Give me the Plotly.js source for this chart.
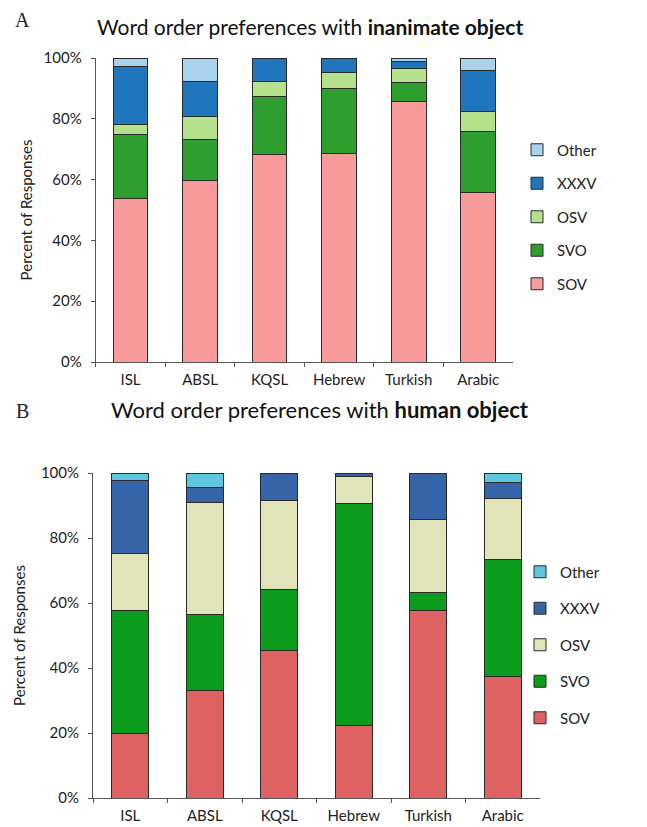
<!DOCTYPE html>
<html>
<head>
<meta charset="utf-8">
<script src="https://cdn.plot.ly/plotly-3.0.1.min.js"></script>
<style>html,body{margin:0;padding:0;background:#fff;}#chart{width:647px;height:827px;}</style>
</head>
<body>
<div id="chart"></div>
<script>
const categories = ['ISL', 'ABSL', 'KQSL', 'Hebrew', 'Turkish', 'Arabic'];
const seriesNames = ['SOV', 'SVO', 'OSV', 'XXXV', 'Other'];

// Panel A: inanimate object (percent of responses)
const inanSOV   = [53.7, 59.8, 68.4, 68.7, 85.8, 55.7];
const inanSVO   = [21.3, 13.3, 18.9, 21.3, 6.0, 20.1];
const inanOSV   = [3.2, 7.6, 4.9, 5.2, 4.9, 6.7];
const inanXXXV  = [18.9, 11.7, 7.8, 4.8, 2.2, 13.5];
const inanOther = [2.9, 7.6, 0, 0, 1.1, 4.0];

// Panel B: human object (percent of responses)
const humSOV   = [20.0, 33.0, 45.3, 22.3, 57.7, 37.4];
const humSVO   = [37.6, 23.4, 18.8, 68.2, 5.6, 35.9];
const humOSV   = [17.5, 34.4, 27.4, 8.3, 22.3, 19.0];
const humXXXV  = [22.5, 4.6, 8.5, 1.2, 14.4, 4.9];
const humOther = [2.4, 4.6, 0, 0, 0, 2.8];

const yTickVals = [0, 20, 40, 60, 80, 100];
const yTickLabels = ['0%', '20%', '40%', '60%', '80%', '100%'];

const colorsA = ['#f99b9b', '#2e9e2e', '#b5e08c', '#1f76bd', '#a9d2ec'];
const colorsB = ['#de6262', '#0a9c1a', '#e0e4b8', '#3565a8', '#5ec6e0'];

const dataA = [inanSOV, inanSVO, inanOSV, inanXXXV, inanOther];
const dataB = [humSOV, humSVO, humOSV, humXXXV, humOther];

const traces = [];
dataA.forEach((vals, i) => {
  traces.push({
    type: 'bar', x: categories, y: vals, name: seriesNames[i],
    xaxis: 'x', yaxis: 'y', legend: 'legend', legendgroup: 'a' + i,
    legendrank: 10 - i,
    marker: {color: colorsA[i], line: {color: '#2a2a2a', width: 1}},
    hoverinfo: 'x+y+name'
  });
});
dataB.forEach((vals, i) => {
  traces.push({
    type: 'bar', x: categories, y: vals, name: seriesNames[i],
    xaxis: 'x2', yaxis: 'y2', legend: 'legend2', legendgroup: 'b' + i,
    legendrank: 10 - i,
    marker: {color: colorsB[i], line: {color: '#2a2a2a', width: 1}},
    hoverinfo: 'x+y+name'
  });
});

const FONT = 'Lato, "Open Sans", sans-serif';
const axisCommon = {
  showline: true, linecolor: '#555', linewidth: 1,
  ticks: 'outside', ticklen: 4, tickcolor: '#555',
  showgrid: false, zeroline: false,
  tickfont: {family: FONT, size: 15, color: '#222'}
};

const W = 647, H = 827;
const layout = {
  width: W, height: H,
  margin: {l: 0, r: 0, t: 0, b: 0},
  paper_bgcolor: '#fff', plot_bgcolor: '#fff',
  barmode: 'stack', bargap: 0.5,
  showlegend: true,
  font: {family: FONT, color: '#222'},
  xaxis: Object.assign({}, axisCommon, {
    domain: [95.7 / W, 513 / W], anchor: 'y', type: 'category',
    tickson: 'boundaries', ticklabelstandoff: 4
  }),
  yaxis: Object.assign({}, axisCommon, {
    domain: [1 - 362 / H, 1 - 58 / H], anchor: 'x', range: [0, 100],
    tickmode: 'array', tickvals: yTickVals, ticktext: yTickLabels, ticklabelstandoff: 6,
    title: {text: 'Percent of Responses', font: {family: FONT, size: 15, color: '#222'}, standoff: 7}
  }),
  xaxis2: Object.assign({}, axisCommon, {
    domain: [93 / W, 540 / W], anchor: 'y2', type: 'category',
    tickson: 'boundaries', ticklabelstandoff: 4
  }),
  yaxis2: Object.assign({}, axisCommon, {
    domain: [1 - 798 / H, 1 - 473 / H], anchor: 'x2', range: [0, 100],
    tickmode: 'array', tickvals: yTickVals, ticktext: yTickLabels, ticklabelstandoff: 6,
    title: {text: 'Percent of Responses', font: {family: FONT, size: 15, color: '#222'}, standoff: 11}
  }),
  legend: {
    x: 517 / W, xanchor: 'left', y: 1 - 217 / H, yanchor: 'middle',
    traceorder: 'grouped', tracegroupgap: 11,
    font: {family: FONT, size: 15, color: '#222'}, bgcolor: 'rgba(0,0,0,0)'
  },
  legend2: {
    x: 520 / W, xanchor: 'left', y: 1 - 645 / H, yanchor: 'middle',
    traceorder: 'grouped', tracegroupgap: 14,
    font: {family: FONT, size: 15, color: '#222'}, bgcolor: 'rgba(0,0,0,0)'
  },
  annotations: [
    {text: 'A', x: 22 / W, y: 1 - 20 / H, xref: 'paper', yref: 'paper', showarrow: false,
     xanchor: 'center', yanchor: 'middle', font: {family: '"Liberation Serif", serif', size: 20, color: '#222'}},
    {text: 'B', x: 22 / W, y: 1 - 411 / H, xref: 'paper', yref: 'paper', showarrow: false,
     xanchor: 'center', yanchor: 'middle', font: {family: '"Liberation Serif", serif', size: 20, color: '#222'}},
    {text: 'Word order preferences with <b>inanimate object</b>', x: 310 / W, y: 1 - 26 / H,
     xref: 'paper', yref: 'paper', showarrow: false, xanchor: 'center', yanchor: 'middle',
     font: {family: FONT, size: 21, color: '#111'}},
    {text: 'Word order preferences with <b>human object</b>', x: 320 / W, y: 1 - 409 / H,
     xref: 'paper', yref: 'paper', showarrow: false, xanchor: 'center', yanchor: 'middle',
     font: {family: FONT, size: 22, color: '#111'}}
  ]
};

Plotly.newPlot('chart', traces, layout, {displayModeBar: false, staticPlot: true});
</script>
</body>
</html>
